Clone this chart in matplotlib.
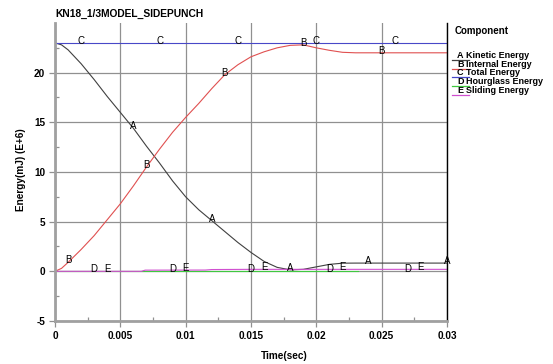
import numpy as np
import matplotlib
matplotlib.use("Agg")
import matplotlib.pyplot as plt
from matplotlib.lines import Line2D

plt.rcParams['font.family'] = ['Liberation Sans', 'DejaVu Sans']
plt.rcParams['font.weight'] = 'bold'
plt.rcParams['axes.unicode_minus'] = False

W, H = 553, 364

# time in seconds
t = [0.000, 0.0005, 0.001, 0.002, 0.003, 0.004, 0.005, 0.006, 0.007, 0.008, 0.009,
     0.010, 0.011, 0.012, 0.013, 0.014, 0.015, 0.016, 0.017, 0.018, 0.019,
     0.020, 0.021, 0.022, 0.023, 0.024, 0.025, 0.026, 0.027, 0.028, 0.029, 0.030]

kinetic = [23.0, 22.8, 22.3, 20.9, 19.3, 17.6, 16.0, 14.4, 12.6, 10.9, 9.1,
           7.5, 6.2, 5.1, 4.0, 2.9, 1.9, 1.0, 0.4, 0.15, 0.2,
           0.45, 0.7, 0.82, 0.83, 0.83, 0.83, 0.83, 0.83, 0.83, 0.83, 0.83]

internal = [0.0, 0.3, 0.9, 2.2, 3.6, 5.2, 6.8, 8.6, 10.5, 12.3, 14.0,
            15.5, 16.9, 18.4, 19.8, 20.8, 21.6, 22.1, 22.5, 22.75, 22.8,
            22.5, 22.25, 22.05, 22.0, 22.0, 22.0, 22.0, 22.0, 22.0, 22.0, 22.0]

t_total = [0.0, 0.030]
total = [23.0, 23.0]

t_hour = [0.0, 0.0232]
hourglass = [0.0, 0.0]

t_slide = [0.0, 0.0066, 0.0069, 0.0115, 0.0120, 0.015, 0.020, 0.030]
sliding = [0.0, 0.0, 0.12, 0.13, 0.18, 0.2, 0.2, 0.2]

# curve letter positions
lab_t = {
    'A': [0.006, 0.012, 0.018, 0.024, 0.030],
    'B': [0.001, 0.007, 0.013, 0.019, 0.025],
    'C': [0.002, 0.008, 0.014, 0.020, 0.026],
    'D': [0.003, 0.009, 0.015, 0.021, 0.027],
    'E': [0.004, 0.010, 0.016, 0.022, 0.028],
}

names = ['Kinetic Energy', 'Internal Energy', 'Total Energy',
         'Hourglass Energy', 'Sliding Energy']
colours = ['#404040', '#e05050', '#4848c8', '#40c840', '#d050d0']

fig = plt.figure(figsize=(W / 100, H / 100), dpi=100)
ax = fig.add_axes([55 / W, 1 - 321 / H, (447 - 55) / W, (321 - 23) / H])

series = [(t, kinetic), (t, internal), (t_total, total), (t_hour, hourglass), (t_slide, sliding)]
for (x, y), c in zip(series, colours):
    ax.plot(x, y, color=c, lw=0.8)

for (x, y), letter in zip(series, 'ABCDE'):
    for lt in lab_t[letter]:
        yv = np.interp(lt, x, y) if lt <= x[-1] else y[-1]
        ax.annotate(letter, (lt, yv), xytext=(0, 1.5), textcoords='offset points',
                    ha='center', va='center', fontsize=7, fontweight='normal',
                    color='black', annotation_clip=False)

ax.set_xlim(0, 0.03)
ax.set_ylim(-5, 25)
ax.set_xticks([0, 0.005, 0.01, 0.015, 0.02, 0.025, 0.03])
ax.set_xticklabels(['0', '0.005', '0.01', '0.015', '0.02', '0.025', '0.03'])
ax.set_yticks([-5, 0, 5, 10, 15, 20])
ax.set_xticks(np.arange(0.0025, 0.03, 0.005), minor=True)
ax.set_yticks(np.arange(-2.5, 25, 5), minor=True)
ax.grid(True, which='major', color='#909090', lw=0.9)
ax.tick_params(which='major', direction='out', length=4, width=0.9, color='#909090',
               labelsize=7.2, pad=3)
ax.tick_params(which='minor', direction='in', length=3, width=0.9, color='#909090')

ax.spines['top'].set_visible(False)
ax.spines['left'].set_color('#a0a0a0')
ax.spines['left'].set_linewidth(2)
ax.spines['bottom'].set_color('#a0a0a0')
ax.spines['bottom'].set_linewidth(2)
ax.spines['right'].set_color('black')
ax.spines['right'].set_linewidth(1)

def px(x, y):
    return x / W, 1 - y / H

fig.text(*px(55, 14), 'KN18_1/3MODEL_SIDEPUNCH', fontsize=7.4,
         ha='left', va='center')
fig.text(*px(21, 170), 'Energy(mJ) (E+6)', fontsize=7.2,
         rotation=90, ha='center', va='center')
fig.text(*px(284, 356), 'Time(sec)', fontsize=7.2,
         ha='center', va='center')

fig.text(*px(455, 31), 'Component', fontsize=7,
         ha='left', va='center')
legend_y = [54.5, 63.5, 72, 81, 90]
for letter, name, c, ly in zip('ABCDE', names, colours, legend_y):
    fig.text(*px(457, ly + 3.3), letter, fontsize=6.5, ha='left', va='baseline')
    fig.text(*px(466, ly + 3.3), name, fontsize=6.5, ha='left', va='baseline')
    fig.add_artist(Line2D([452 / W, 469 / W], [1 - (ly + 5) / H] * 2, color=c, lw=0.9))

fig.savefig('out.png', dpi=100)
